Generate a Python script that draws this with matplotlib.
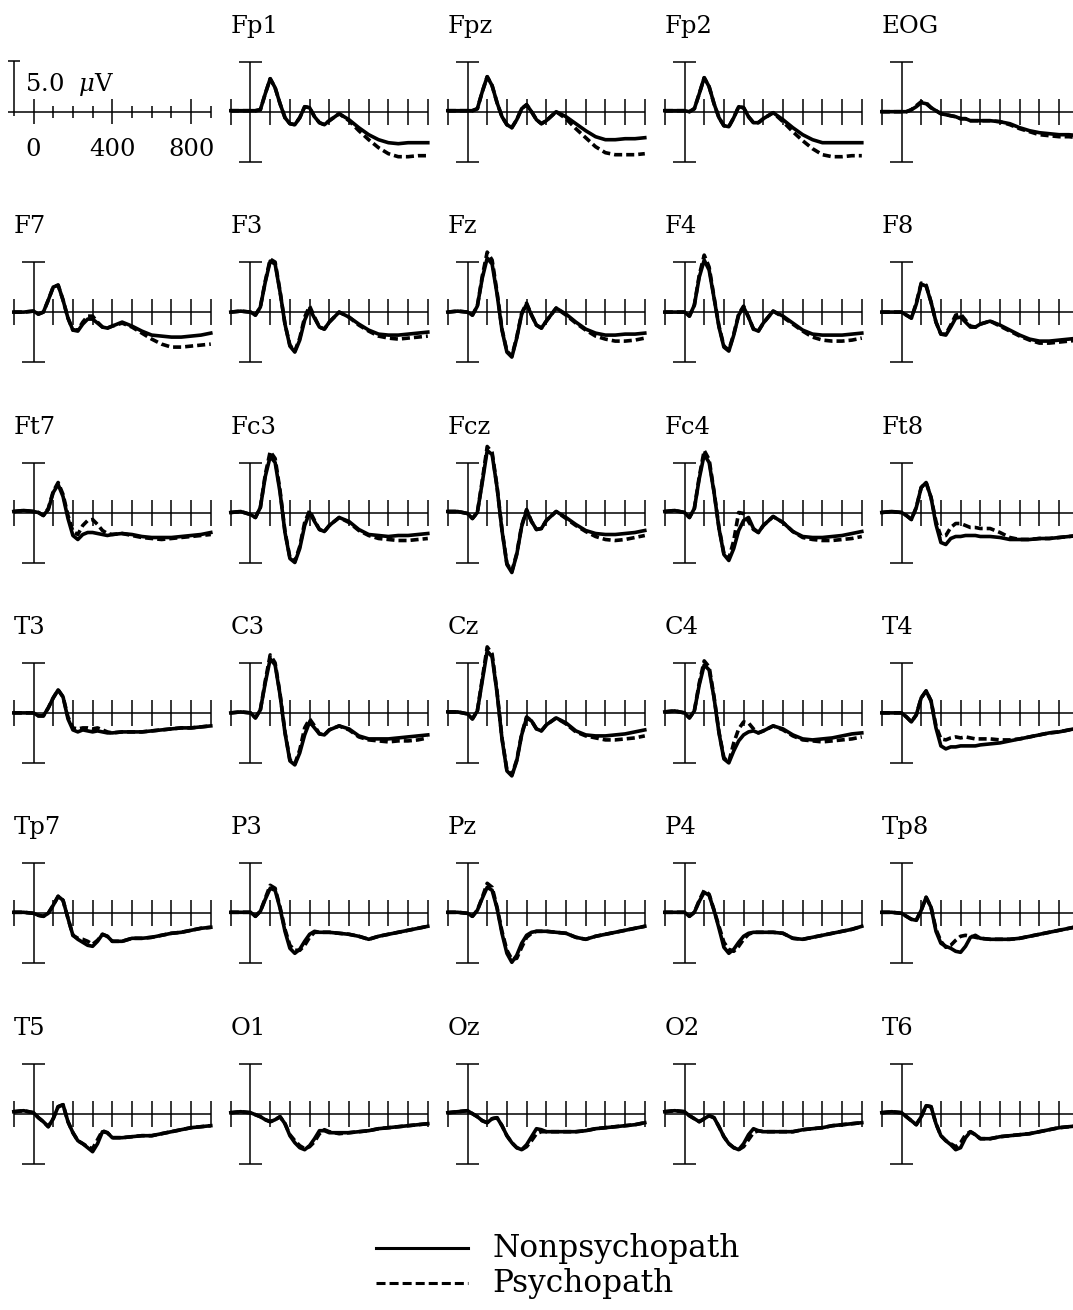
import matplotlib
matplotlib.use("Agg")
import matplotlib.pyplot as plt
from matplotlib.lines import Line2D

plt.rcParams["font.family"] = "DejaVu Serif"
plt.rcParams["mathtext.fontset"] = "dejavuserif"
plt.rcParams["lines.scale_dashes"] = False

# sample times (ms) shared by every waveform
times = [-100, -50, 0, 25, 50, 75, 100, 125, 150, 175, 200, 225, 250, 275, 300,
         325, 350, 375, 400, 450, 500, 550, 600, 650, 700, 750, 800, 850, 900]

# amplitudes in microvolts (non = Nonpsychopath, psy = Psychopath)
Fp1_non = [0.1, 0.1, 0.1, 0.1, 0.2, 1.8, 3.3, 2.4, 0.8, -0.6, -1.2, -1.3, -0.6, 0.5, 0.4, -0.5, -1.1, -1.3, -0.9, -0.2, -0.8, -1.6, -2.3, -2.8, -3.1, -3.2, -3.1, -3.1, -3.1]
Fp1_psy = [0.1, 0.1, 0.1, 0.1, 0.2, 1.8, 3.3, 2.4, 0.8, -0.6, -1.2, -1.3, -0.6, 0.5, 0.4, -0.5, -1.1, -1.3, -0.9, -0.2, -0.9, -1.9, -2.8, -3.6, -4.2, -4.5, -4.5, -4.4, -4.4]
Fpz_non = [0.1, 0.1, 0.1, 0.1, 0.3, 2.0, 3.5, 2.6, 0.9, -0.5, -1.3, -1.6, -0.8, 0.3, 0.7, 0.0, -0.8, -1.2, -0.9, 0.0, -0.5, -1.2, -1.9, -2.5, -2.8, -2.8, -2.7, -2.7, -2.6]
Fpz_psy = [0.1, 0.1, 0.1, 0.1, 0.3, 2.0, 3.5, 2.6, 0.9, -0.5, -1.3, -1.6, -0.8, 0.3, 0.7, 0.0, -0.8, -1.2, -0.9, 0.0, -0.7, -1.7, -2.6, -3.5, -4.1, -4.3, -4.3, -4.3, -4.2]
Fp2_non = [0.1, 0.1, 0.1, 0.0, 0.3, 1.8, 3.4, 2.5, 0.8, -0.6, -1.4, -1.5, -0.6, 0.5, 0.4, -0.5, -1.1, -1.1, -0.7, -0.1, -0.8, -1.6, -2.3, -2.8, -3.1, -3.1, -3.1, -3.1, -3.1]
Fp2_psy = [0.1, 0.1, 0.1, 0.0, 0.3, 1.8, 3.4, 2.5, 0.8, -0.6, -1.4, -1.5, -0.6, 0.5, 0.4, -0.5, -1.1, -1.1, -0.7, -0.1, -1.0, -2.0, -2.9, -3.7, -4.3, -4.5, -4.5, -4.4, -4.4]
EOG_non = [0.0, 0.0, 0.0, 0.0, 0.2, 0.5, 0.9, 0.8, 0.4, 0.1, -0.2, -0.3, -0.4, -0.5, -0.7, -0.7, -0.9, -0.9, -0.9, -0.9, -1.0, -1.2, -1.6, -1.9, -2.1, -2.2, -2.3, -2.3, -2.4]
EOG_psy = [0.0, 0.0, 0.0, 0.0, 0.2, 0.6, 1.0, 0.9, 0.4, 0.1, -0.2, -0.3, -0.4, -0.5, -0.7, -0.7, -0.9, -0.9, -0.9, -0.9, -1.0, -1.3, -1.7, -2.0, -2.3, -2.4, -2.5, -2.5, -2.6]

F7_non = [0.0, 0.0, 0.1, -0.2, 0.0, 1.2, 2.5, 2.7, 1.2, -0.6, -1.8, -1.9, -1.2, -0.7, -0.7, -1.1, -1.5, -1.6, -1.4, -1.0, -1.4, -1.9, -2.3, -2.4, -2.5, -2.5, -2.4, -2.3, -2.1]
F7_psy = [0.0, 0.0, 0.1, -0.2, 0.0, 1.2, 2.5, 2.7, 1.2, -0.6, -1.8, -1.8, -1.0, -0.4, -0.4, -1.0, -1.5, -1.6, -1.4, -1.1, -1.5, -2.1, -2.7, -3.2, -3.5, -3.5, -3.4, -3.3, -3.2]
F3_non = [0.0, 0.1, 0.0, -0.3, 0.5, 3.0, 5.1, 4.8, 2.0, -1.2, -3.4, -4.0, -2.8, -0.8, 0.3, -0.6, -1.5, -1.7, -1.0, 0.0, -0.5, -1.2, -1.8, -2.2, -2.3, -2.3, -2.2, -2.1, -2.0]
F3_psy = [0.0, 0.1, 0.0, -0.3, 0.5, 3.1, 5.3, 5.0, 2.1, -1.2, -3.3, -3.9, -2.6, -0.5, 0.6, -0.5, -1.5, -1.7, -1.0, 0.0, -0.5, -1.3, -1.9, -2.4, -2.6, -2.7, -2.6, -2.5, -2.4]
Fz_non = [0.0, 0.1, 0.0, -0.3, 0.6, 3.4, 5.4, 4.8, 1.8, -1.8, -4.0, -4.5, -2.6, -0.2, 0.8, -0.3, -1.3, -1.6, -0.9, 0.4, -0.2, -1.0, -1.7, -2.1, -2.3, -2.3, -2.2, -2.2, -2.1]
Fz_psy = [0.0, 0.1, 0.0, -0.3, 0.6, 3.6, 6.0, 5.2, 2.0, -1.7, -3.9, -4.4, -2.5, -0.1, 0.9, -0.3, -1.3, -1.6, -0.9, 0.4, -0.3, -1.1, -1.8, -2.4, -2.7, -2.9, -2.9, -2.8, -2.6]
F4_non = [0.0, 0.0, 0.0, -0.4, 0.7, 3.5, 5.2, 4.2, 1.4, -1.5, -3.5, -3.9, -2.3, -0.3, 0.5, -0.5, -1.7, -1.9, -1.1, 0.1, -0.4, -1.1, -1.8, -2.2, -2.3, -2.3, -2.3, -2.2, -2.1]
F4_psy = [0.0, 0.0, 0.0, -0.4, 0.7, 3.7, 5.7, 4.5, 1.5, -1.4, -3.4, -3.8, -2.2, -0.2, 0.6, -0.5, -1.7, -1.9, -1.1, 0.1, -0.5, -1.2, -1.9, -2.5, -2.8, -2.9, -2.9, -2.8, -2.6]
F8_non = [0.0, 0.0, 0.0, -0.3, -0.6, 0.8, 2.8, 2.6, 1.0, -1.0, -2.2, -2.3, -1.5, -0.6, -0.5, -1.0, -1.5, -1.5, -1.2, -0.9, -1.3, -1.8, -2.3, -2.7, -2.9, -2.9, -2.8, -2.7, -2.6]
F8_psy = [0.0, 0.0, 0.0, -0.3, -0.6, 0.9, 2.9, 2.7, 1.0, -1.0, -2.2, -2.2, -1.3, -0.3, -0.2, -0.8, -1.4, -1.5, -1.2, -0.9, -1.4, -1.9, -2.4, -2.8, -3.1, -3.1, -3.0, -2.9, -2.8]

Ft7_non = [0.1, 0.2, 0.1, 0.0, -0.3, 0.3, 2.0, 2.8, 1.6, -0.6, -2.3, -2.7, -2.2, -2.0, -2.0, -2.1, -2.2, -2.3, -2.2, -2.1, -2.2, -2.4, -2.5, -2.5, -2.5, -2.4, -2.3, -2.2, -2.0]
Ft7_psy = [0.1, 0.2, 0.1, 0.0, -0.3, 0.4, 2.1, 3.0, 1.8, -0.3, -1.9, -2.2, -1.3, -0.8, -0.7, -1.2, -1.8, -2.1, -2.2, -2.1, -2.3, -2.5, -2.6, -2.7, -2.6, -2.5, -2.4, -2.3, -2.2]
Fc3_non = [0.0, 0.1, -0.2, -0.5, 0.5, 3.6, 5.6, 5.0, 2.0, -2.0, -4.6, -5.0, -3.6, -1.3, 0.0, -0.9, -1.7, -1.9, -1.3, -0.5, -0.9, -1.7, -2.2, -2.3, -2.4, -2.3, -2.3, -2.2, -2.1]
Fc3_psy = [0.0, 0.1, -0.2, -0.5, 0.5, 3.8, 6.1, 5.4, 2.2, -1.9, -4.5, -4.9, -3.4, -1.0, 0.2, -0.8, -1.7, -1.9, -1.3, -0.5, -1.0, -1.8, -2.3, -2.6, -2.7, -2.8, -2.8, -2.7, -2.6]
Fcz_non = [0.1, 0.1, -0.1, -0.6, 0.0, 3.0, 6.2, 5.8, 2.5, -1.8, -5.2, -6.0, -4.2, -1.4, 0.2, -0.9, -1.7, -1.6, -0.8, 0.1, -0.5, -1.2, -1.8, -2.1, -2.2, -2.2, -2.1, -2.0, -1.8]
Fcz_psy = [0.1, 0.1, -0.1, -0.6, 0.0, 3.2, 6.6, 6.0, 2.6, -1.7, -5.1, -5.9, -4.1, -1.3, 0.3, -0.9, -1.7, -1.6, -0.8, 0.1, -0.6, -1.3, -1.9, -2.4, -2.7, -2.8, -2.7, -2.5, -2.3]
Fc4_non = [0.1, 0.2, 0.0, -0.5, 0.4, 3.4, 5.8, 5.0, 2.0, -1.6, -4.2, -4.8, -3.6, -1.8, -0.8, -0.5, -1.6, -2.0, -1.3, -0.4, -1.0, -1.9, -2.4, -2.5, -2.5, -2.4, -2.3, -2.1, -1.9]
Fc4_psy = [0.1, 0.2, 0.0, -0.5, 0.4, 3.6, 6.2, 5.3, 2.1, -1.5, -4.1, -4.6, -2.8, 0.0, -0.1, -0.9, -1.7, -2.0, -1.3, -0.4, -1.0, -1.9, -2.5, -2.7, -2.8, -2.8, -2.7, -2.6, -2.4]
Ft8_non = [0.0, 0.1, 0.0, -0.3, -0.7, 0.5, 2.5, 3.0, 1.5, -1.2, -3.0, -3.2, -2.6, -2.4, -2.4, -2.3, -2.3, -2.3, -2.4, -2.4, -2.5, -2.7, -2.7, -2.7, -2.6, -2.6, -2.5, -2.4, -2.3]
Ft8_psy = [0.0, 0.1, 0.0, -0.3, -0.7, 0.5, 2.5, 3.0, 1.5, -0.9, -2.4, -2.3, -1.5, -1.1, -1.1, -1.3, -1.5, -1.5, -1.6, -1.6, -2.0, -2.5, -2.7, -2.7, -2.6, -2.6, -2.5, -2.4, -2.3]

T3_non = [0.0, 0.0, 0.0, -0.3, -0.3, 0.5, 1.5, 2.3, 1.6, -0.6, -1.7, -1.9, -1.7, -1.8, -1.9, -1.8, -1.9, -2.0, -2.0, -1.9, -1.9, -1.9, -1.8, -1.7, -1.6, -1.5, -1.5, -1.4, -1.3]
T3_psy = [0.0, 0.0, 0.0, -0.3, -0.3, 0.5, 1.5, 2.3, 1.6, -0.4, -1.5, -1.6, -1.5, -1.5, -1.6, -1.5, -1.7, -1.9, -2.0, -1.9, -1.9, -1.9, -1.8, -1.7, -1.6, -1.5, -1.5, -1.4, -1.3]
C3_non = [0.0, 0.1, 0.0, -0.5, 0.3, 3.0, 5.4, 4.8, 1.8, -2.0, -4.8, -5.2, -4.0, -2.2, -0.9, -1.5, -2.1, -2.2, -1.7, -1.3, -1.6, -2.3, -2.6, -2.6, -2.6, -2.5, -2.4, -2.3, -2.2]
C3_psy = [0.0, 0.1, 0.0, -0.5, 0.3, 3.2, 5.8, 5.0, 1.9, -1.9, -4.7, -5.1, -3.7, -1.5, -0.6, -1.3, -2.1, -2.2, -1.7, -1.3, -1.7, -2.4, -2.7, -2.8, -2.9, -2.8, -2.8, -2.7, -2.5]
Cz_non = [0.1, 0.1, -0.1, -0.6, 0.2, 3.2, 6.2, 5.6, 2.0, -2.6, -5.8, -6.3, -4.8, -2.2, -0.5, -0.8, -1.6, -1.8, -1.2, -0.5, -1.0, -1.8, -2.2, -2.3, -2.3, -2.2, -2.1, -1.9, -1.7]
Cz_psy = [0.1, 0.1, -0.1, -0.6, 0.2, 3.4, 6.6, 5.9, 2.1, -2.5, -5.7, -6.2, -4.7, -2.1, -0.4, -0.8, -1.6, -1.8, -1.2, -0.5, -1.1, -1.9, -2.3, -2.5, -2.7, -2.7, -2.6, -2.5, -2.3]
C4_non = [0.1, 0.2, 0.0, -0.5, 0.2, 2.8, 4.8, 4.3, 1.5, -2.0, -4.6, -5.0, -3.8, -2.8, -2.2, -1.9, -1.8, -2.0, -1.8, -1.3, -1.6, -2.2, -2.6, -2.7, -2.6, -2.5, -2.3, -2.1, -2.0]
C4_psy = [0.1, 0.2, 0.0, -0.5, 0.2, 3.0, 5.2, 4.6, 1.6, -1.9, -4.5, -4.9, -3.0, -1.6, -0.9, -1.0, -1.6, -2.0, -1.8, -1.3, -1.7, -2.3, -2.7, -2.8, -2.9, -2.8, -2.7, -2.6, -2.4]
T4_non = [0.0, 0.0, 0.0, -0.4, -0.9, -0.2, 1.5, 2.2, 1.2, -1.5, -3.3, -3.6, -3.4, -3.4, -3.3, -3.3, -3.3, -3.3, -3.2, -3.1, -3.0, -2.8, -2.6, -2.4, -2.2, -2.0, -1.9, -1.7, -1.5]
T4_psy = [0.0, 0.0, 0.0, -0.4, -0.9, -0.2, 1.5, 2.2, 1.2, -1.3, -2.6, -2.7, -2.5, -2.4, -2.5, -2.4, -2.5, -2.6, -2.6, -2.6, -2.7, -2.7, -2.6, -2.4, -2.2, -2.0, -1.9, -1.7, -1.5]

Tp7_non = [0.1, 0.1, 0.0, -0.2, -0.3, 0.0, 0.8, 1.7, 1.3, -0.5, -2.2, -2.6, -2.9, -3.2, -3.3, -2.8, -2.1, -2.3, -2.8, -2.8, -2.5, -2.5, -2.4, -2.2, -2.0, -1.9, -1.7, -1.5, -1.4]
Tp7_psy = [0.1, 0.1, 0.0, -0.2, -0.3, 0.0, 0.8, 1.7, 1.3, -0.5, -2.2, -2.5, -2.6, -2.8, -3.1, -2.7, -2.1, -2.3, -2.8, -2.8, -2.5, -2.5, -2.4, -2.2, -2.0, -1.9, -1.7, -1.5, -1.4]
P3_non = [0.1, 0.1, 0.1, -0.3, 0.2, 1.4, 2.5, 2.3, 0.5, -1.8, -3.5, -4.0, -3.6, -2.8, -2.1, -1.8, -1.9, -1.9, -1.9, -2.0, -2.1, -2.3, -2.6, -2.3, -2.1, -1.9, -1.7, -1.5, -1.3]
P3_psy = [0.1, 0.1, 0.1, -0.3, 0.2, 1.5, 2.8, 2.5, 0.6, -1.6, -3.2, -3.7, -3.7, -3.2, -2.4, -1.9, -1.9, -1.9, -1.9, -2.0, -2.1, -2.3, -2.6, -2.3, -2.1, -1.9, -1.7, -1.5, -1.3]
Pz_non = [0.1, 0.1, 0.0, -0.3, 0.3, 1.5, 2.6, 2.3, 0.5, -2.0, -4.0, -4.9, -4.2, -3.0, -2.2, -1.9, -1.8, -1.8, -1.8, -1.9, -2.0, -2.4, -2.6, -2.3, -2.1, -1.9, -1.7, -1.5, -1.3]
Pz_psy = [0.1, 0.1, 0.0, -0.3, 0.3, 1.6, 3.0, 2.6, 0.6, -1.8, -3.7, -4.6, -4.5, -3.4, -2.4, -2.0, -1.8, -1.8, -1.8, -1.9, -2.0, -2.4, -2.6, -2.3, -2.1, -1.9, -1.7, -1.5, -1.3]
P4_non = [0.1, 0.1, 0.1, -0.3, 0.1, 1.2, 2.1, 1.8, 0.3, -1.5, -3.4, -4.0, -3.6, -2.9, -2.3, -2.0, -1.9, -1.9, -1.9, -1.9, -2.0, -2.5, -2.6, -2.4, -2.2, -2.0, -1.8, -1.6, -1.3]
P4_psy = [0.1, 0.1, 0.1, -0.3, 0.1, 1.3, 2.3, 1.9, 0.3, -1.3, -2.9, -3.6, -3.8, -3.3, -2.6, -2.1, -1.9, -1.9, -1.9, -1.9, -2.0, -2.5, -2.6, -2.4, -2.2, -2.0, -1.8, -1.6, -1.3]
Tp8_non = [0.1, 0.1, 0.0, -0.3, -0.6, -0.7, 0.3, 1.6, 0.6, -1.8, -3.0, -3.3, -3.5, -3.8, -3.9, -3.3, -2.4, -2.2, -2.5, -2.6, -2.6, -2.6, -2.5, -2.3, -2.1, -1.9, -1.7, -1.5, -1.3]
Tp8_psy = [0.1, 0.1, 0.0, -0.3, -0.6, -0.7, 0.3, 1.6, 0.6, -1.6, -2.8, -3.4, -3.2, -2.7, -2.3, -2.2, -2.3, -2.4, -2.5, -2.6, -2.6, -2.6, -2.5, -2.3, -2.1, -1.9, -1.7, -1.5, -1.3]

T5_non = [0.2, 0.3, 0.1, -0.4, -0.8, -1.3, -0.5, 0.7, 0.9, -0.8, -1.9, -2.7, -3.0, -3.4, -3.8, -3.0, -1.8, -1.9, -2.4, -2.4, -2.3, -2.2, -2.2, -2.0, -1.8, -1.6, -1.4, -1.3, -1.2]
T5_psy = [0.2, 0.3, 0.1, -0.4, -0.8, -1.3, -0.5, 0.7, 0.9, -0.8, -1.9, -2.7, -3.0, -3.3, -3.5, -2.6, -1.7, -1.9, -2.4, -2.4, -2.3, -2.2, -2.2, -2.0, -1.8, -1.6, -1.4, -1.3, -1.2]
O1_non = [0.1, 0.2, 0.1, -0.1, -0.3, -0.6, -0.8, -0.6, -0.3, -1.0, -2.2, -2.9, -3.4, -3.6, -3.2, -2.5, -1.7, -1.7, -1.9, -1.9, -1.9, -1.8, -1.7, -1.5, -1.4, -1.3, -1.2, -1.1, -1.0]
O1_psy = [0.1, 0.2, 0.1, -0.1, -0.3, -0.6, -0.8, -0.6, -0.3, -1.0, -2.1, -2.7, -3.2, -3.5, -3.3, -2.8, -2.0, -1.6, -1.8, -2.0, -1.9, -1.8, -1.7, -1.5, -1.4, -1.3, -1.2, -1.1, -1.0]
Oz_non = [0.1, 0.2, 0.3, 0.0, -0.3, -0.7, -0.9, -0.5, -0.4, -1.2, -2.2, -2.9, -3.4, -3.6, -3.1, -2.3, -1.5, -1.6, -1.8, -1.8, -1.8, -1.8, -1.7, -1.5, -1.4, -1.3, -1.2, -1.1, -0.9]
Oz_psy = [0.1, 0.2, 0.3, 0.0, -0.3, -0.7, -0.9, -0.5, -0.4, -1.2, -2.2, -2.9, -3.4, -3.6, -3.3, -2.7, -2.0, -1.8, -1.8, -1.8, -1.8, -1.8, -1.7, -1.5, -1.4, -1.3, -1.2, -1.1, -0.9]
O2_non = [0.2, 0.3, 0.2, -0.2, -0.5, -0.8, -0.5, -0.2, -0.4, -1.3, -2.3, -3.0, -3.4, -3.6, -3.0, -2.1, -1.5, -1.7, -1.8, -1.8, -1.8, -1.8, -1.6, -1.5, -1.4, -1.2, -1.1, -1.0, -0.9]
O2_psy = [0.2, 0.3, 0.2, -0.2, -0.5, -0.8, -0.5, -0.2, -0.4, -1.3, -2.3, -3.0, -3.4, -3.6, -3.3, -2.6, -1.9, -1.7, -1.8, -1.8, -1.8, -1.8, -1.6, -1.5, -1.4, -1.2, -1.1, -1.0, -0.9]
T6_non = [0.1, 0.2, 0.1, -0.3, -0.7, -1.1, -0.3, 0.8, 0.7, -1.0, -2.2, -2.7, -3.1, -3.6, -3.4, -2.4, -1.8, -2.1, -2.5, -2.5, -2.3, -2.2, -2.1, -2.0, -1.8, -1.6, -1.4, -1.3, -1.2]
T6_psy = [0.1, 0.2, 0.1, -0.3, -0.7, -1.1, -0.3, 0.8, 0.7, -1.0, -2.2, -2.7, -3.0, -3.3, -2.9, -2.1, -1.8, -2.1, -2.5, -2.5, -2.3, -2.2, -2.1, -2.0, -1.8, -1.6, -1.4, -1.3, -1.2]

# grid of electrodes, row by row (None = the scale panel)
layout = [
    [None, ("Fp1", Fp1_non, Fp1_psy), ("Fpz", Fpz_non, Fpz_psy), ("Fp2", Fp2_non, Fp2_psy), ("EOG", EOG_non, EOG_psy)],
    [("F7", F7_non, F7_psy), ("F3", F3_non, F3_psy), ("Fz", Fz_non, Fz_psy), ("F4", F4_non, F4_psy), ("F8", F8_non, F8_psy)],
    [("Ft7", Ft7_non, Ft7_psy), ("Fc3", Fc3_non, Fc3_psy), ("Fcz", Fcz_non, Fcz_psy), ("Fc4", Fc4_non, Fc4_psy), ("Ft8", Ft8_non, Ft8_psy)],
    [("T3", T3_non, T3_psy), ("C3", C3_non, C3_psy), ("Cz", Cz_non, Cz_psy), ("C4", C4_non, C4_psy), ("T4", T4_non, T4_psy)],
    [("Tp7", Tp7_non, Tp7_psy), ("P3", P3_non, P3_psy), ("Pz", Pz_non, Pz_psy), ("P4", P4_non, P4_psy), ("Tp8", Tp8_non, Tp8_psy)],
    [("T5", T5_non, T5_psy), ("O1", O1_non, O1_psy), ("Oz", Oz_non, Oz_psy), ("O2", O2_non, O2_psy), ("T6", T6_non, T6_psy)],
]
tick_ms = [-100, 100, 200, 300, 400, 500, 600, 700, 800, 900]
scale_labels = [0, 400, 800]

W, H = 1073, 1310
PX_MS = 0.197     # pixels per ms
PX_UV = 10.0      # pixels per microvolt
XLIM = (-140, 940)
YLIM = (-9.5, 9.5)
FS = 17.5
LW_AX = 1.1
LW_WAVE = 2.6

fig = plt.figure(figsize=(W / 100, H / 100), dpi=100)


def make_panel(col, row):
    x0 = 33.5 + 217.0 * col          # pixel position of t = 0
    y0 = 111.7 + 200.4 * row         # pixel position of 0 uV
    left = x0 + XLIM[0] * PX_MS
    top = y0 - YLIM[1] * PX_UV
    w = (XLIM[1] - XLIM[0]) * PX_MS
    h = (YLIM[1] - YLIM[0]) * PX_UV
    ax = fig.add_axes([left / W, 1 - (top + h) / H, w / W, h / H])
    ax.set_xlim(XLIM)
    ax.set_ylim(YLIM)
    ax.axis("off")
    return ax


for r, row in enumerate(layout):
    for c, item in enumerate(row):
        ax = make_panel(c, r)
        if item is None:
            # calibration panel
            ax.hlines(0, -128, 900, color="k", lw=LW_AX)
            ax.vlines([t for t in tick_ms if t > 0 and t not in scale_labels], -0.6, 0.6, color="k", lw=LW_AX)
            ax.vlines(scale_labels, -1.2, 1.3, color="k", lw=LW_AX)
            ax.vlines(-100, -0.4, 5.1, color="k", lw=LW_AX)
            ax.hlines(5.1, -128, -68, color="k", lw=LW_AX)
            ax.text(-44, 2.1, "5.0  $\\mu$V", fontsize=FS, va="baseline")
            for t in scale_labels:
                ax.text(t, -4.4, str(t), fontsize=FS, ha="center", va="baseline")
            continue
        name, non, psy = item
        ax.hlines(0, -100, 900, color="k", lw=LW_AX)
        ax.vlines(tick_ms, -1.3, 1.3, color="k", lw=LW_AX)
        ax.vlines(0, -5, 5, color="k", lw=LW_AX)
        ax.hlines([-5, 5], -60, 60, color="k", lw=LW_AX)
        ax.plot(times, psy, color="k", lw=LW_WAVE, dashes=(5.8, 2.9))
        ax.plot(times, non, color="k", lw=LW_WAVE)
        ax.text(-100, 7.9, name, fontsize=FS, va="baseline")

# legend
fig.add_artist(Line2D([376 / W, 468 / W], [1 - 1248 / H] * 2, color="k", lw=2.2))
fig.add_artist(Line2D([376 / W, 468 / W], [1 - 1283 / H] * 2, color="k", lw=2.2, dashes=(6.5, 2.9)))
fig.text(492 / W, 1 - 1257 / H, "Nonpsychopath", fontsize=22.5, va="baseline")
fig.text(492 / W, 1 - 1292 / H, "Psychopath", fontsize=22.5, va="baseline")

fig.savefig("out.png", dpi=100)
